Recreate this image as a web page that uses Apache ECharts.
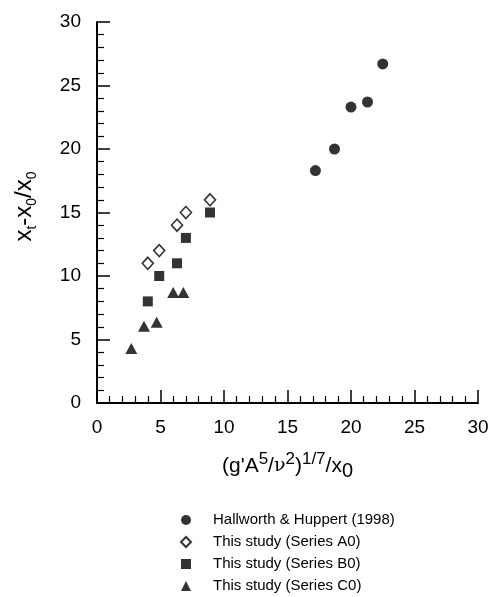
<!DOCTYPE html>
<html>
<head>
<meta charset="utf-8">
<script src="https://cdn.jsdelivr.net/npm/echarts@6/dist/echarts.min.js"></script>
<style>
  html, body { margin: 0; padding: 0; background: #fff; }
  #main { width: 498px; height: 597px; }
</style>
</head>
<body>
<div id="main"></div>
<script>
// data
var hallworthX = [17.2, 18.7, 20.0, 21.3, 22.5]
var hallworthY = [18.3, 20.0, 23.3, 23.7, 26.7]
var seriesAX = [4.0, 4.9, 6.3, 7.0, 8.9]
var seriesAY = [11, 12, 14, 15, 16]
var seriesBX = [4.0, 4.9, 6.3, 7.0, 8.9]
var seriesBY = [8, 10, 11, 13, 15]
var seriesCX = [2.7, 3.7, 4.7, 6.0, 6.8]
var seriesCY = [4.3, 6.05, 6.35, 8.7, 8.7]
var names = [
  'Hallworth & Huppert (1998)',
  'This study (Series A0)',
  'This study (Series B0)',
  'This study (Series C0)'
]

function pairs (xs, ys) {
  return xs.map(function (x, i) { return [x, ys[i]] })
}

var font = 'Liberation Sans, Arial, sans-serif'
var myChart = echarts.init(document.getElementById('main'), null, { renderer: 'canvas' })

var axisCommon = {
  type: 'value',
  min: 0,
  max: 30,
  interval: 5,
  splitLine: { show: false },
  axisLine: { show: true, onZero: false, lineStyle: { color: '#000', width: 2 } },
  axisTick: { show: true, inside: true, length: 13, lineStyle: { color: '#000', width: 1.5 } },
  minorTick: { show: true, splitNumber: 5, length: 7, lineStyle: { color: '#000', width: 1.2 } }
}

var option = {
  backgroundColor: '#fff',
  animation: false,
  grid: { left: 97, right: 20, top: 22, bottom: 194 },
  legend: {
    orient: 'vertical',
    left: 180,
    top: 511,
    padding: 0,
    itemWidth: 10,
    itemHeight: 10,
    itemGap: 4,
    data: names,
    textStyle: { color: '#000', fontSize: 15, fontFamily: font, lineHeight: 18, padding: [0, 0, 0, 17] }
  },
  xAxis: Object.assign({}, axisCommon, {
    axisLabel: { color: '#000', fontSize: 19, fontFamily: font, margin: 15 },
    name: '{m|(g\'A}{sup|5}{m|/}{nu|ν}{sup|2}{m|)}{sup|1/7}{m|/x}{sub|0}',
    nameLocation: 'middle',
    nameGap: 48,
    nameTextStyle: {
      rich: {
        m: { fontSize: 21, fontFamily: font, color: '#000', lineHeight: 30 },
        nu: { fontSize: 19, fontFamily: 'DejaVu Serif, serif', color: '#000', lineHeight: 30 },
        sup: { fontSize: 17, fontFamily: font, color: '#000', verticalAlign: 'top', lineHeight: 20 },
        sub: { fontSize: 20, fontFamily: font, color: '#000', verticalAlign: 'bottom', lineHeight: 18 }
      }
    }
  }),
  yAxis: Object.assign({}, axisCommon, {
    axisLabel: { color: '#000', fontSize: 19, fontFamily: font, margin: 16 },
    name: '{m|x}{s|t}{m|-x}{s|0}{m|/x}{s|0}',
    nameLocation: 'middle',
    nameRotate: 90,
    nameGap: 58,
    nameTextStyle: {
      padding: [0, 0, 0, 12],
      rich: {
        m: { fontSize: 24, fontFamily: font, color: '#000', lineHeight: 30 },
        s: { fontSize: 14, fontFamily: font, color: '#000', verticalAlign: 'bottom', lineHeight: 15 }
      }
    }
  }),
  series: [
    {
      name: names[0],
      type: 'scatter',
      symbol: 'circle',
      symbolSize: 11,
      itemStyle: { color: '#000' },
      data: pairs(hallworthX, hallworthY)
    },
    {
      name: names[1],
      type: 'scatter',
      symbol: 'diamond',
      symbolSize: [11, 12],
      itemStyle: { color: '#fff', borderColor: '#000', borderWidth: 1.6 },
      data: pairs(seriesAX, seriesAY)
    },
    {
      name: names[2],
      type: 'scatter',
      symbol: 'rect',
      symbolSize: 10,
      itemStyle: { color: '#000' },
      data: pairs(seriesBX, seriesBY)
    },
    {
      name: names[3],
      type: 'scatter',
      symbol: 'triangle',
      symbolSize: [12, 11],
      itemStyle: { color: '#000' },
      data: pairs(seriesCX, seriesCY)
    }
  ]
}

myChart.setOption(option)
window.onresize = myChart.resize
</script>
</body>
</html>
